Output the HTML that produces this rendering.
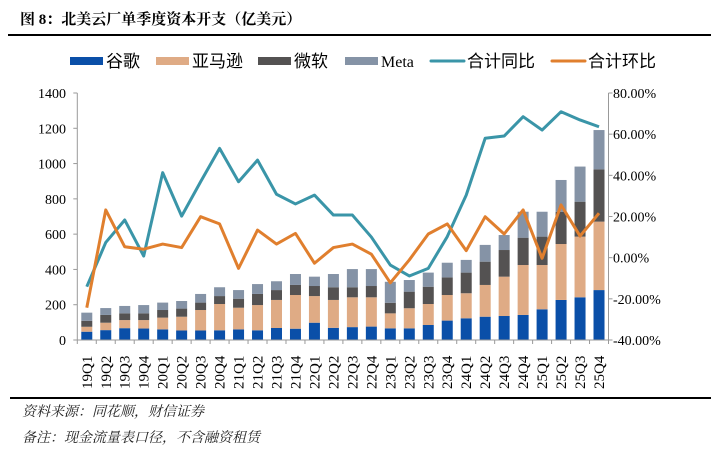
<!DOCTYPE html>
<html><head><meta charset="utf-8"><style>
body{margin:0;background:#fff;}
svg{display:block;}
</style></head><body>
<svg id="chart" width="718" height="451" xmlns="http://www.w3.org/2000/svg">
<text x="20" y="24" font-family="'Liberation Serif','Noto Serif CJK SC',serif" font-weight="bold" font-size="15" fill="#000">图 8：北美云厂单季度资本开支（亿美元）</text>
<line x1="8" y1="35" x2="711" y2="35" stroke="#000" stroke-width="2"/>
<g id="legend" font-family="'Liberation Sans','Noto Sans CJK SC',sans-serif" font-size="17" fill="#000"></g>
<g id="plot"></g>
<line x1="10" y1="398" x2="711" y2="398" stroke="#000" stroke-width="2"/>
<text x="22" y="416" font-family="'Noto Serif CJK SC',serif" font-style="italic" font-size="14" fill="#222">资料来源：同花顺，财信证券</text>
<text x="22" y="442" font-family="'Noto Serif CJK SC',serif" font-style="italic" font-size="14" fill="#222">备注：现金流量表口径，不含融资租赁</text>
</svg>
<script>
const categories=['19Q1','19Q2','19Q3','19Q4','20Q1','20Q2','20Q3','20Q4','21Q1','21Q2','21Q3','21Q4','22Q1','22Q2','22Q3','22Q4','23Q1','23Q2','23Q3','23Q4','24Q1','24Q2','24Q3','24Q4','25Q1','25Q2','25Q3','25Q4'];
const google=[47,56,67,65,60,54,54,55,60,55,68,64,98,69,73,76,66,66,85,110,123,132,136,142,174,227,242,283];
const amazon=[28,42,46,48,67,78,116,149,123,143,159,191,151,158,169,166,85,114,119,145,142,180,223,283,251,317,344,388];
const microsoft=[34,44,38,38,43,46,42,45,51,63,56,57,57,72,57,64,60,94,98,100,117,132,151,155,161,183,198,296];
const meta=[46,39,42,47,42,43,49,50,49,56,50,62,53,75,103,96,119,66,80,83,72,95,85,147,141,180,199,223];
const yoy=[-14.1,7.4,18.3,0.8,41.3,20.2,36.9,53.1,36.9,47.4,30.8,26.1,30.4,20.7,20.7,10,-3.6,-8.9,-5.2,10.2,30.4,58,59.1,68.5,62,70.9,66.9,63.6];
const qoq=[-24.3,23.2,5.3,4.1,6.6,4.9,19.9,16.4,-5.2,13.4,6.6,11.8,-2.7,4.9,6.6,1.7,-12.2,-1.1,11.5,16.4,3.4,19.9,11.5,23.2,-0.3,25.6,10.5,21.6];
const leftTicks=[0,200,400,600,800,1000,1200,1400];
const rightTicks=[-40,-20,0,20,40,60,80];

const NS='http://www.w3.org/2000/svg';
const X0=77.3,X1=608.5,Y0=340,Y1=93;
const step=(X1-X0)/categories.length;
const xc=i=>X0+(i+0.5)*step;
const yL=v=>Y0-(v/1400)*(Y0-Y1);
const yR=v=>Y0-((v+40)/120)*(Y0-Y1);
const plot=document.getElementById('plot');
function mk(tag,attrs,parent){const e=document.createElementNS(NS,tag);for(const k in attrs)e.setAttribute(k,attrs[k]);(parent||plot).appendChild(e);return e;}
const colors=['#0a4fa8','#dfab85','#545252','#8593a6'];
const series=[google,amazon,microsoft,meta];
const sNames=['google','amazon','microsoft','meta'];
categories.forEach((c,i)=>{
  let base=0;
  series.forEach((s,k)=>{
    const r=mk('rect',{x:xc(i)-5.5,y:yL(base+s[i]),width:11,height:yL(base)-yL(base+s[i]),fill:colors[k]});
    
    
    base+=s[i];
  });
});
const la=mk('line',{x1:X0,y1:Y1,x2:X0,y2:Y0,stroke:'#999','stroke-width':1});


const ra=mk('line',{x1:X1,y1:Y1,x2:X1,y2:Y0,stroke:'#999','stroke-width':1});


const xa=mk('line',{x1:X0,y1:Y0,x2:X1,y2:Y0,stroke:'#999','stroke-width':1});


leftTicks.forEach(v=>{
  mk('line',{x1:X0-4,y1:yL(v),x2:X0,y2:yL(v),stroke:'#999'});
  const t=mk('text',{x:66,y:yL(v)+5,'text-anchor':'end','font-family':"'Liberation Serif',serif",'font-size':14,fill:'#000'});
  t.textContent=v;
  
  
});
rightTicks.forEach(v=>{
  mk('line',{x1:X1,y1:yR(v),x2:X1+4,y2:yR(v),stroke:'#999'});
  const t=mk('text',{x:613,y:yR(v)+5,'font-family':"'Liberation Serif',serif",'font-size':14,fill:'#000'});
  t.textContent=v.toFixed(2)+'%';
  
  
});
for(let i=0;i<=categories.length;i++){mk('line',{x1:X0+i*step,y1:Y0,x2:X0+i*step,y2:Y0+4,stroke:'#999'});}
categories.forEach((c,i)=>{
  const x=xc(i)+5,y=389;
  const t=mk('text',{x:x,y:y,transform:`rotate(-90 ${x} ${y})`,'font-family':"'Liberation Serif',serif",'font-size':15,fill:'#000'});
  t.textContent=c;
  
  
});
const p1=mk('polyline',{points:yoy.map((v,i)=>xc(i)+','+yR(v)).join(' '),fill:'none',stroke:'#3a95a8','stroke-width':3,'stroke-linejoin':'round'});


const p2=mk('polyline',{points:qoq.map((v,i)=>xc(i)+','+yR(v)).join(' '),fill:'none',stroke:'#e07f2e','stroke-width':3,'stroke-linejoin':'round'});


const lg=document.getElementById('legend');
const items=[['谷歌','rect','#0a4fa8',70],['亚马逊','rect','#dfab85',156],['微软','rect','#545252',258],['Meta','rect','#8593a6',345],['合计同比','line','#3a95a8',431],['合计环比','line','#e07f2e',552]];
items.forEach(([label,type,col,x])=>{
  if(type==='rect'){const r=mk('rect',{x:x,y:57,width:33,height:8,fill:col},lg);}
  else{const l=mk('line',{x1:x,y1:61,x2:x+33,y2:61,stroke:col,'stroke-width':3,'stroke-linecap':'round'},lg);}
  const t=mk('text',{x:x+36,y:67,'font-family':label==='Meta'?"'Liberation Serif',serif":"'Liberation Sans','Noto Sans CJK SC',sans-serif",'font-size':label==='Meta'?16:17},lg);
  t.textContent=label;
  
  
});
</script>
</body></html>
